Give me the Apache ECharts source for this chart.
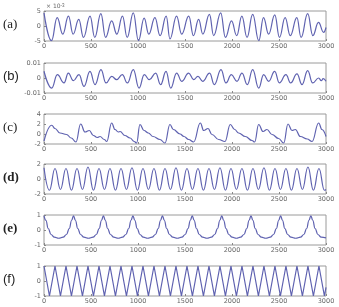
<!DOCTYPE html>
<html><head><meta charset="utf-8">
<script src="https://cdn.jsdelivr.net/npm/echarts@6/dist/echarts.min.js"></script>
<style>html,body{margin:0;padding:0;background:#fff}#c{width:339px;height:307px}</style>
</head><body><div id="c"></div>
<script>
// x tick labels (shared)
const xTicks = [0, 500, 1000, 1500, 2000, 2500, 3000];
const panelLabels = ['(a)', '(b)', '(c)', '(d)', '(e)', '(f)'];

// (a) values in units of 1e-3
const aX = [0,80,140,200,260,310,370,420,490,540,605,655,720,775,835,885,950,1005,1065,1115,1180,1235,1300,1340,1410,1465,1540,1590,1645,1690,1760,1805,1880,1930,1995,2050,2105,2160,2220,2285,2335,2390,2455,2505,2565,2620,2690,2735,2805,2860,2920,2975,3000];
const aY = [4.4,-4.9,2.8,-2.7,3.3,-2.7,2.2,-3.8,3.3,-3.8,4.1,-3.8,1.7,-2.7,3.3,-3.8,4.4,-4.9,2.6,-2.7,2.8,-3.2,3.3,-4.3,3.3,-2.7,3.3,-3.2,2.2,-2.7,3.9,-3.2,4.4,-3.8,1.7,-3.2,3.3,-3.8,3.9,-4.9,2.8,-2.7,3.7,-3.8,2.8,-3.2,2.8,-3.8,4.1,-3.2,1.2,-2.1,-0.5];

// (b)
const bX = [0,82,142,213,259,312,372,426,489,543,606,660,720,773,833,887,950,1011,1067,1121,1188,1241,1298,1348,1411,1465,1539,1592,1638,1688,1762,1812,1883,1936,1993,2053,2106,2163,2220,2284,2337,2390,2454,2504,2574,2624,2691,2745,2805,2858,2922,2950,2970,3000];
const bY = [0.0045,-0.0067,0.0022,-0.0033,0.0033,-0.0018,0.0022,-0.0056,0.0044,-0.0044,0.0056,-0.0033,0.0011,-0.0011,0.0022,-0.0033,0.0056,-0.0067,0.0022,-0.0011,0.0033,-0.0044,0.0044,-0.0067,0.0033,-0.0022,0.0033,-0.0011,0.0011,-0.0022,0.0033,-0.0044,0.0056,-0.0033,0.0022,-0.0022,0.0033,-0.0044,0.0056,-0.0067,0.0022,-0.0022,0.0044,-0.0033,0.0022,-0.0033,0.0027,-0.0044,0.0049,-0.0033,0.0000,-0.0018,-0.0004,-0.0022];

// (c)
const cX = [0,82,117,170,240,290,340,390,436,482,525,567,596,642,667,720,755,790,810,860,915,960,985,1021,1064,1110,1160,1234,1287,1340,1376,1447,1489,1539,1592,1663,1699,1745,1787,1858,1925,1982,2028,2070,2142,2213,2241,2284,2330,2372,2426,2496,2550,2596,2638,2674,2727,2800,2851,2922,2957,3000];
const cY = [-1.4,1.75,1.1,0.2,-0.1,-0.8,-1.6,2.0,0.4,0.7,-0.3,-0.7,-0.5,-1.1,-1.5,2.2,0.9,0.4,0.5,-0.3,-0.8,-1.5,-1.8,1.9,0.7,0.2,-0.5,-1.1,-1.8,1.9,0.9,0.0,-0.5,-1.1,-1.6,2.2,0.7,1.1,-0.1,-1.1,-1.5,1.9,0.9,0.2,-0.5,-1.3,-1.6,1.9,0.5,0.9,-0.1,-0.9,-1.8,2.0,0.7,0.9,-0.5,-1.0,-1.5,2.2,0.9,-0.5];

// (d)
const dX = [0,58,117,175,234,292,351,409,468,526,585,643,702,760,819,877,936,994,1053,1111,1170,1228,1287,1345,1404,1462,1521,1579,1638,1696,1755,1813,1872,1930,1989,2047,2106,2164,2223,2281,2340,2398,2457,2515,2574,2632,2691,2749,2808,2866,2925,2983,3000];
const dY = [1.5,-1.5,1.4,-1.4,1.4,-1.5,1.4,-1.4,1.6,-1.5,1.4,-1.4,1.4,-1.5,1.4,-1.4,1.5,-1.5,1.4,-1.4,1.4,-1.5,1.4,-1.4,1.5,-1.5,1.4,-1.4,1.4,-1.5,1.4,-1.4,1.5,-1.5,1.4,-1.4,1.4,-1.5,1.4,-1.4,1.5,-1.5,1.4,-1.4,1.4,-1.5,1.4,-1.4,1.6,-1.5,1.4,-1.5,-1.4];

// (e)
const eX = [0,20,45,75,110,157,204,239,269,294,314,334,359,389,424,473,522,557,587,612,632,652,677,707,742,789,836,871,901,926,946,966,991,1021,1056,1103,1150,1185,1215,1240,1260,1280,1305,1335,1370,1418,1467,1502,1532,1557,1577,1597,1622,1652,1687,1734,1781,1816,1846,1871,1891,1911,1936,1966,2001,2046,2092,2127,2157,2182,2202,2222,2247,2277,2312,2360,2407,2442,2472,2497,2517,2537,2562,2592,2627,2678,2729,2764,2794,2819,2839,2859,2884,2914,2949,3000];
const eY = [0.95,0.65,0.1,-0.3,-0.48,-0.55,-0.48,-0.3,0.1,0.65,0.95,0.65,0.1,-0.3,-0.48,-0.55,-0.48,-0.3,0.1,0.65,0.95,0.65,0.1,-0.3,-0.48,-0.55,-0.48,-0.3,0.1,0.65,0.95,0.65,0.1,-0.3,-0.48,-0.55,-0.48,-0.3,0.1,0.65,0.95,0.65,0.1,-0.3,-0.48,-0.55,-0.48,-0.3,0.1,0.65,0.95,0.65,0.1,-0.3,-0.48,-0.55,-0.48,-0.3,0.1,0.65,0.95,0.65,0.1,-0.3,-0.48,-0.55,-0.48,-0.3,0.1,0.65,0.95,0.65,0.1,-0.3,-0.48,-0.55,-0.48,-0.3,0.1,0.65,0.95,0.65,0.1,-0.3,-0.48,-0.55,-0.48,-0.3,0.1,0.65,0.95,0.65,0.1,-0.3,-0.48,-0.52];

// (f) triangle wave vertices
const fX = [0,58,117,175,234,292,351,409,468,526,585,643,702,760,819,877,936,994,1053,1111,1170,1228,1287,1345,1404,1462,1521,1579,1638,1696,1755,1813,1872,1930,1989,2047,2106,2164,2223,2281,2340,2398,2457,2515,2574,2632,2691,2749,2808,2866,2925,2983,3000];
const fY = [1,-1,1,-1,1,-1,1,-1,1,-1,1,-1,1,-1,1,-1,1,-1,1,-1,1,-1,1,-1,1,-1,1,-1,1,-1,1,-1,1,-1,1,-1,1,-1,1,-1,1,-1,1,-1,1,-1,1,-1,1,-1,1,-1,-0.42];

const yRanges = [[-5,5,5],[-0.01,0.01,0.01],[-2,4,2],[-2,2,2],[-1,1,1],[-1,1,1]];
const seriesX = [aX,bX,cX,dX,eX,fX];
const seriesY = [aY,bY,cY,dY,eY,fY];
const smoothFlags = [true,true,true,true,true,false];

const tops = [11, 63, 114, 164, 215, 266];
const H = 30;
const lineColor = '#5f62b0';
const grids = [], xAxes = [], yAxes = [], series = [], graphics = [];
const labelFonts = ['Liberation Serif','Liberation Sans','Liberation Serif','Liberation Serif','Liberation Serif','Liberation Sans'];
const labelWeights = ['normal','normal','normal','bold','bold','normal'];
for (let i = 0; i < 6; i++) {
  grids.push({left: 44, width: 282, top: tops[i], height: H, show: true, borderColor: '#9a9a9a', borderWidth: 1, backgroundColor: 'transparent'});
  xAxes.push({type: 'value', gridIndex: i, min: 0, max: 3000, interval: 500,
    axisLine: {show: false, onZero: false}, splitLine: {show: false},
    axisTick: {show: true, inside: true, length: 2, lineStyle: {color: '#888'}},
    axisLabel: {fontSize: 6.5, color: '#666', margin: 2, fontFamily: 'DejaVu Sans',
      formatter: v => xTicks.includes(v) ? String(v) : ''}});
  const r = yRanges[i];
  yAxes.push({type: 'value', gridIndex: i, min: r[0], max: r[1], interval: r[2],
    axisLine: {show: false, onZero: false}, splitLine: {show: false},
    axisTick: {show: true, inside: true, length: 2, lineStyle: {color: '#888'}},
    axisLabel: {fontSize: 6.5, color: '#666', margin: 3, fontFamily: 'DejaVu Sans',
      formatter: v => String(+v.toFixed(4))}});
  series.push({type: 'line', xAxisIndex: i, yAxisIndex: i, showSymbol: false, symbol: 'none',
    smooth: smoothFlags[i] ? 0.45 : false, smoothMonotone: 'x',
    lineStyle: {color: lineColor, width: 1.2},
    data: seriesX[i].map((x, k) => [x, seriesY[i][k]])});
  graphics.push({type: 'text', left: 3, top: tops[i] + H/2 - 8,
    style: {text: panelLabels[i], font: labelWeights[i] + ' 13px "' + labelFonts[i] + '"', fill: '#222'}});
}
graphics.push({type: 'text', left: 46, top: 3,
  style: {text: '× 10{s|-3}', rich: {s: {fontSize: 4.5, verticalAlign: 'top', fill: '#666'}}, fontSize: 6, fill: '#666', fontFamily: 'DejaVu Sans'}});

const chart = echarts.init(document.getElementById('c'), null, {renderer: 'canvas'});
chart.setOption({animation: false, grid: grids, xAxis: xAxes, yAxis: yAxes, series: series, graphic: graphics});
</script></body></html>
